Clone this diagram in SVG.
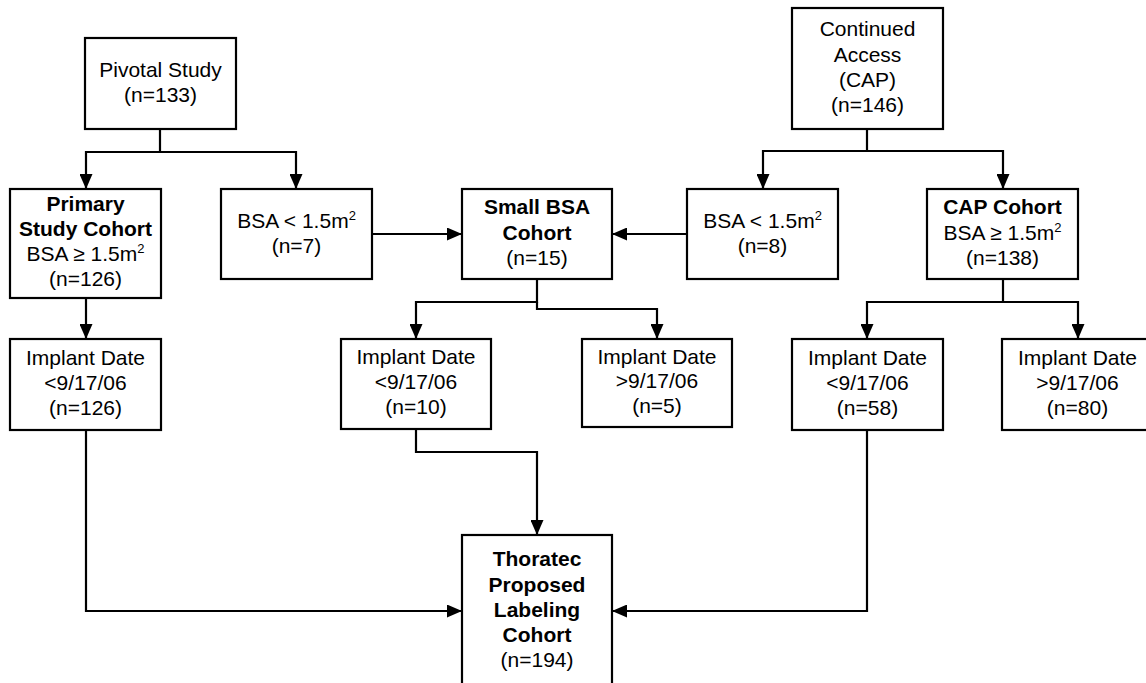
<svg xmlns="http://www.w3.org/2000/svg" width="1146" height="683" viewBox="0 0 1146 683">
<defs>
<style>
.box{fill:#fff;stroke:#000;stroke-width:2.2}
.t{font-family:"Liberation Sans",Arial,sans-serif;font-size:21px;text-anchor:middle;fill:#000}
.b{font-weight:bold}
.sup{font-size:13px}
.c{fill:none;stroke:#000;stroke-width:2.2}
</style>
<marker id="ah" markerUnits="userSpaceOnUse" markerWidth="15" markerHeight="13" refX="15" refY="6.5" orient="auto">
<path d="M0,0 L15,6.5 L0,13 z" fill="#000"/>
</marker>
</defs>
<rect width="1146" height="683" fill="#fff"/>
<g id="connectors">
<path class="c" d="M160,129 V152 H86 V189" marker-end="url(#ah)"/>
<path class="c" d="M160,152 H296 V189" marker-end="url(#ah)"/>
<path class="c" d="M372,234 H462" marker-end="url(#ah)"/>
<path class="c" d="M687,234 H612" marker-end="url(#ah)"/>
<path class="c" d="M867,129 V151 H763 V189" marker-end="url(#ah)"/>
<path class="c" d="M867,151 H1003 V189" marker-end="url(#ah)"/>
<path class="c" d="M86,298 V339" marker-end="url(#ah)"/>
<path class="c" d="M537,279 V302 H416 V339" marker-end="url(#ah)"/>
<path class="c" d="M537,302 V309 H657 V339" marker-end="url(#ah)"/>
<path class="c" d="M1003,279 V302 H867 V339" marker-end="url(#ah)"/>
<path class="c" d="M1003,302 H1078 V339" marker-end="url(#ah)"/>
<path class="c" d="M86,430 V611 H462" marker-end="url(#ah)"/>
<path class="c" d="M416,429 V452 H537 V535" marker-end="url(#ah)"/>
<path class="c" d="M867,430 V611 H612" marker-end="url(#ah)"/>
</g>
<g id="pivotal">
<rect class="box" x="85" y="38" width="151" height="91"/>
<text class="t" x="160.5" y="77">Pivotal Study</text>
<text class="t" x="160.5" y="102">(n=133)</text>
</g>
<g id="cap">
<rect class="box" x="792" y="8" width="151" height="121"/>
<text class="t" x="867.5" y="36">Continued</text>
<text class="t" x="867.5" y="62">Access</text>
<text class="t" x="867.5" y="87">(CAP)</text>
<text class="t" x="867.5" y="112">(n=146)</text>
</g>
<g id="primary">
<rect class="box" x="10" y="189" width="151" height="109"/>
<text class="t b" x="85.5" y="211">Primary</text>
<text class="t b" x="85.5" y="236">Study Cohort</text>
<text class="t" x="85.5" y="261">BSA ≥ 1.5m<tspan class="sup" dy="-8">2</tspan></text>
<text class="t" x="85.5" y="286">(n=126)</text>
</g>
<g id="bsa7">
<rect class="box" x="221" y="189" width="151" height="90"/>
<text class="t" x="296.5" y="228">BSA &lt; 1.5m<tspan class="sup" dy="-8">2</tspan></text>
<text class="t" x="296.5" y="253">(n=7)</text>
</g>
<g id="small">
<rect class="box" x="462" y="189" width="150" height="90"/>
<text class="t b" x="537" y="214">Small BSA</text>
<text class="t b" x="537" y="240">Cohort</text>
<text class="t" x="537" y="265">(n=15)</text>
</g>
<g id="bsa8">
<rect class="box" x="687" y="189" width="151" height="90"/>
<text class="t" x="762.5" y="228">BSA &lt; 1.5m<tspan class="sup" dy="-8">2</tspan></text>
<text class="t" x="762.5" y="253">(n=8)</text>
</g>
<g id="capcohort">
<rect class="box" x="927" y="189" width="151" height="90"/>
<text class="t b" x="1002.5" y="214">CAP Cohort</text>
<text class="t" x="1002.5" y="240">BSA ≥ 1.5m<tspan class="sup" dy="-8">2</tspan></text>
<text class="t" x="1002.5" y="265">(n=138)</text>
</g>
<g id="implant126">
<rect class="box" x="10" y="339" width="151" height="91"/>
<text class="t" x="85.5" y="365">Implant Date</text>
<text class="t" x="85.5" y="390">&lt;9/17/06</text>
<text class="t" x="85.5" y="415">(n=126)</text>
</g>
<g id="implant10">
<rect class="box" x="341" y="339" width="150" height="90"/>
<text class="t" x="416" y="364">Implant Date</text>
<text class="t" x="416" y="389">&lt;9/17/06</text>
<text class="t" x="416" y="414">(n=10)</text>
</g>
<g id="implant5">
<rect class="box" x="582" y="339" width="150" height="88"/>
<text class="t" x="657" y="364">Implant Date</text>
<text class="t" x="657" y="388">&gt;9/17/06</text>
<text class="t" x="657" y="413">(n=5)</text>
</g>
<g id="implant58">
<rect class="box" x="792" y="339" width="151" height="91"/>
<text class="t" x="867.5" y="365">Implant Date</text>
<text class="t" x="867.5" y="390">&lt;9/17/06</text>
<text class="t" x="867.5" y="415">(n=58)</text>
</g>
<g id="implant80">
<rect class="box" x="1002" y="339" width="151" height="91"/>
<text class="t" x="1077.5" y="365">Implant Date</text>
<text class="t" x="1077.5" y="390">&gt;9/17/06</text>
<text class="t" x="1077.5" y="415">(n=80)</text>
</g>
<g id="thoratec">
<rect class="box" x="462" y="535" width="150" height="160"/>
<text class="t b" x="537" y="566">Thoratec</text>
<text class="t b" x="537" y="592">Proposed</text>
<text class="t b" x="537" y="617">Labeling</text>
<text class="t b" x="537" y="642">Cohort</text>
<text class="t" x="537" y="667">(n=194)</text>
</g>
</svg>
